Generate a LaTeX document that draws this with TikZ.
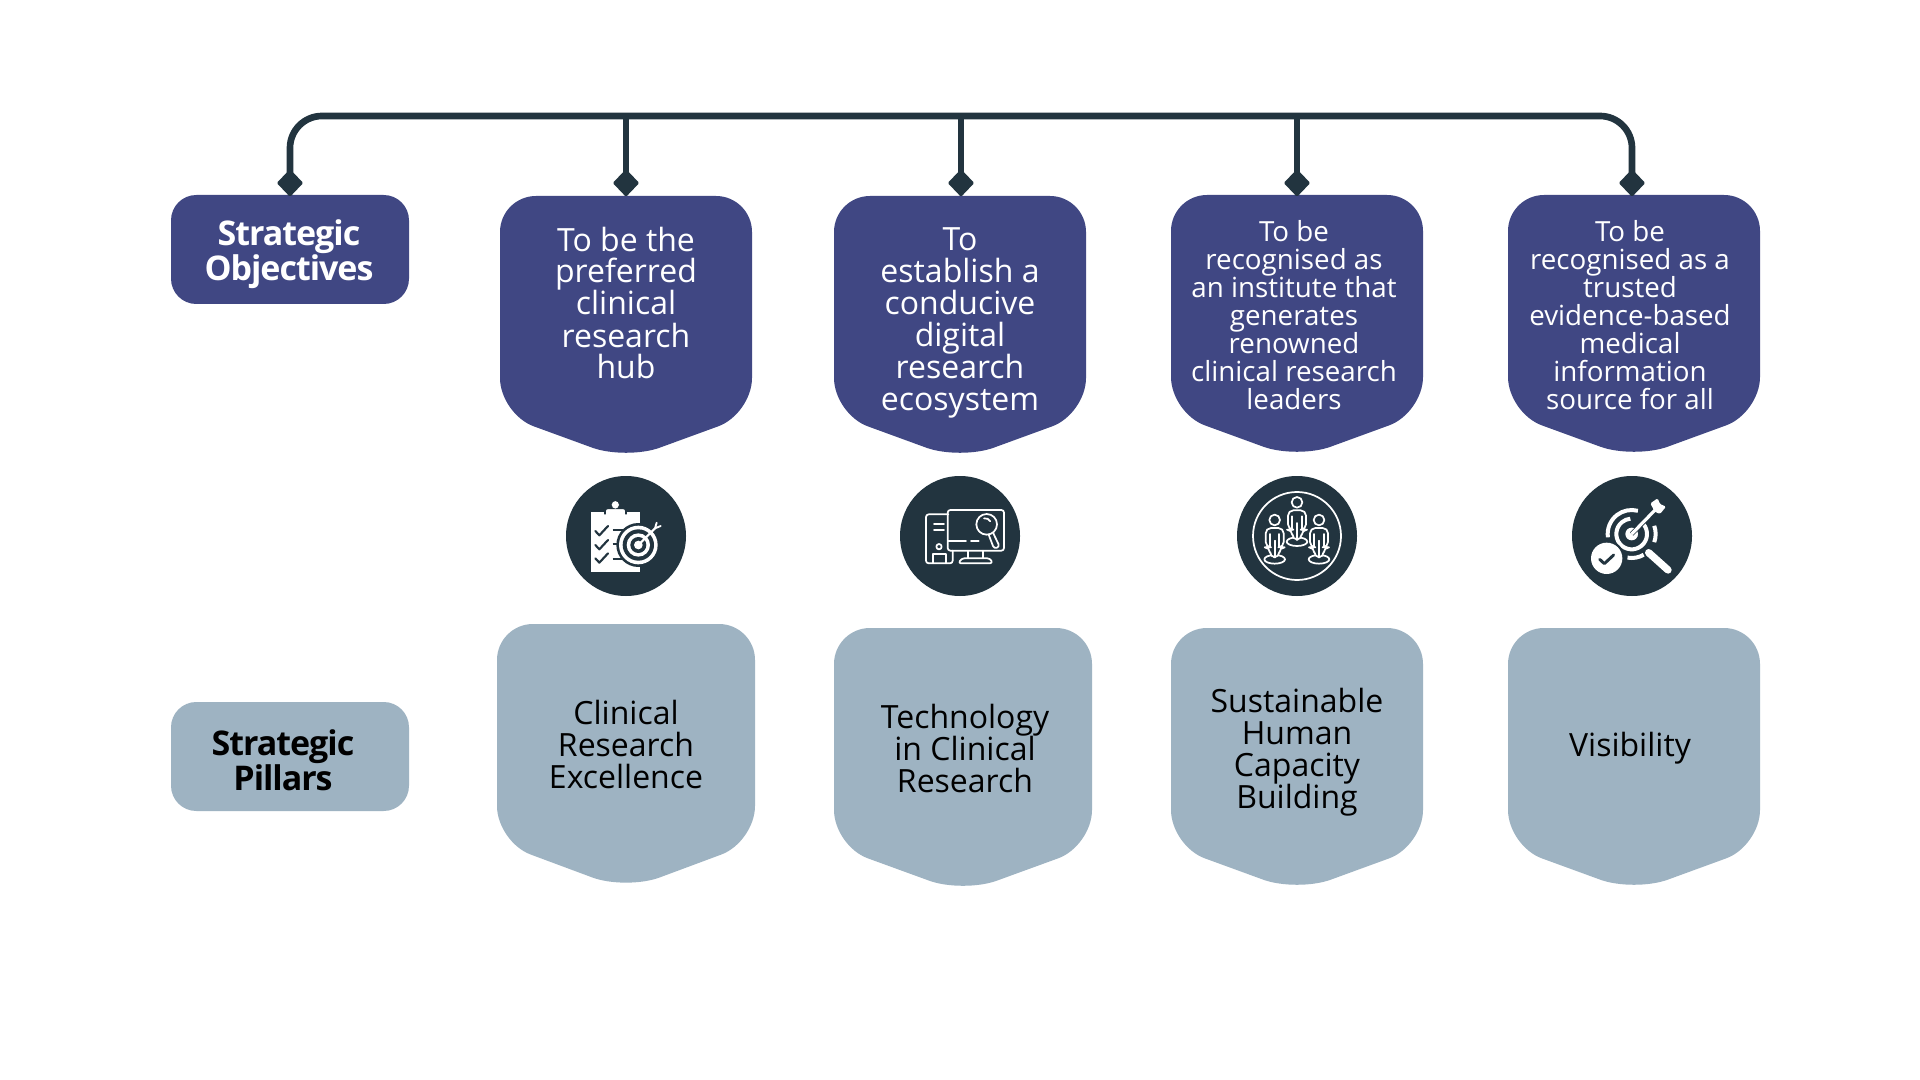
\documentclass[tikz,border=0pt]{standalone}
\usepackage{fontspec}
\setmainfont{Open Sans}
\newfontfamily\headfont[LetterSpace=-3]{Open Sans}
\usetikzlibrary{shapes.geometric}
\definecolor{objblue}{RGB}{64,71,131}
\definecolor{pillargrey}{RGB}{158,179,194}
\definecolor{darkslate}{RGB}{34,52,63}
\tikzset{
  busline/.style={draw=darkslate,line width=5pt},
  tipmark/.style={shape=diamond,fill=darkslate,inner sep=0pt,minimum width=20pt,minimum height=21pt,rounded corners=1pt},
  hdrbox/.style={shape=rectangle,rounded corners=19pt,minimum width=178.5pt,minimum height=81.75pt,inner sep=0pt},
  hdrtext/.style={align=center,font=\headfont\bfseries\fontsize{25.5}{24}\selectfont},
  bigtext/.style={align=center,font=\fontsize{24}{24}\selectfont},
  smalltext/.style={align=center,font=\fontsize{20.8}{21}\selectfont},
  icondisc/.style={shape=circle,fill=darkslate,minimum size=90pt,inner sep=0pt},
  iconline/.style={draw=white,line width=1.3pt,line join=round,line cap=round},
  personpic/.pic={
    \draw[iconline,fill=darkslate] (0,0) circle (16);
    \draw[iconline,fill=darkslate] (0,118) ellipse (31 and 13);
    \draw[iconline,fill=darkslate,rounded corners=4pt] (-14,112) -- (-14,82) -- (-27,82) -- (-27,24) -- (27,24) -- (27,82) -- (14,82) -- (14,112) -- cycle;
    \draw[iconline] (-14,42) -- (-14,82) (14,42) -- (14,82) (0,62) -- (0,112);
  }
}

\begin{document}
\begin{tikzpicture}[x=0.75pt,y=0.75pt,yscale=-1,xscale=1]
\path[use as bounding box,fill=white] (0,0) rectangle (1920,1080);

%Shape: Pentagon objectives
\fill[objblue,rounded corners=27pt] (626,196) -- (752,196) -- (752,414) -- (626,460) -- (500,414) -- (500,196) -- cycle;
\fill[objblue,rounded corners=27pt] (960,196) -- (1086,196) -- (1086,414) -- (960,460) -- (834,414) -- (834,196) -- cycle;
\fill[objblue,rounded corners=27pt] (1297,195) -- (1423,195) -- (1423,413) -- (1297,459) -- (1171,413) -- (1171,195) -- cycle;
\fill[objblue,rounded corners=27pt] (1634,195) -- (1760,195) -- (1760,413) -- (1634,459) -- (1508,413) -- (1508,195) -- cycle;

%Shape: Pentagon pillars
\fill[pillargrey,rounded corners=27pt] (626,624) -- (755,624) -- (755,842) -- (626,890) -- (497,842) -- (497,624) -- cycle;
\fill[pillargrey,rounded corners=27pt] (963,628) -- (1092,628) -- (1092,846) -- (963,893) -- (834,846) -- (834,628) -- cycle;
\fill[pillargrey,rounded corners=27pt] (1297,628) -- (1423,628) -- (1423,846) -- (1297,892) -- (1171,846) -- (1171,628) -- cycle;
\fill[pillargrey,rounded corners=27pt] (1634,628) -- (1760,628) -- (1760,846) -- (1634,892) -- (1508,846) -- (1508,628) -- cycle;

%Shape: Header boxes
\node[hdrbox,fill=objblue] (objbox) at (290,249.5) {};
\node[hdrbox,fill=pillargrey] (pilbox) at (290,756.5) {};

%Connector points on the bus
\coordinate (busA) at (290,116);
\coordinate (busB) at (626,116);
\coordinate (busC) at (961,116);
\coordinate (busD) at (1297,116);
\coordinate (busE) at (1632,116);

%Diamond ends
\node[tipmark] (tipA) at (290,183) {};
\node[tipmark] (tipB) at (626,183) {};
\node[tipmark] (tipC) at (961,183) {};
\node[tipmark] (tipD) at (1297,183) {};
\node[tipmark] (tipE) at (1632,183) {};

%Straight Lines
\draw[busline,rounded corners=24pt] (tipA.center) -- (busA) -- (busE) -- (tipE.center);
\draw[busline] (busB) -- (tipB.center);
\draw[busline] (busC) -- (tipC.center);
\draw[busline] (busD) -- (tipD.center);

%Shape: Circle
\node[icondisc] (discA) at (626,536) {};
\node[icondisc] (discB) at (960,536) {};
\node[icondisc] (discC) at (1297,536) {};
\node[icondisc] (discD) at (1632,536) {};

%Icon clipboard
\begin{scope}[shift={(discA.center)},scale=1/3,shift={(-258,-228)}]
\fill[white] (153,155) -- (300,155) -- (300,335) -- (153,335) -- cycle;
\draw[darkslate,line width=1.2pt,fill=white,rounded corners=2pt] (195,163) -- (195,145) -- (258,145) -- (258,163);
\fill[white,rounded corners=3pt] (215,146) -- (215,123) -- (237,123) -- (237,146) -- cycle;
\draw[darkslate,line width=1.6pt,line cap=round,line join=round] (166,213) -- (178,226) -- (204,198) (166,255) -- (178,268) -- (204,240) (166,295) -- (178,308) -- (204,280);
\draw[darkslate,line width=1.6pt] (218,210) -- (250,210) (218,253) -- (240,253) (218,297) -- (250,297);
\fill[darkslate] (295,255) circle (66);
\fill[white] (295,255) circle (58);
\fill[darkslate] (295,255) circle (47);
\fill[white] (295,255) circle (35);
\fill[darkslate] (295,255) circle (24);
\fill[white] (295,255) circle (13);
\draw[white,line width=1.6pt,line cap=round] (295,255) -- (345,205);
\draw[white,line width=1.4pt,line cap=round] (350,188) -- (345,205) -- (362,198);
\end{scope}

%Icon computer
\begin{scope}[shift={(discB.center)},scale=1/3,shift={(-1260,-228)}]
\draw[iconline,rounded corners=2pt] (1225,163) -- (1158,163) -- (1158,310) -- (1238,310) -- (1238,272);
\draw[iconline,rounded corners=2pt] (1223,150) rectangle (1392,272);
\draw[iconline] (1182,193) -- (1212,193) (1182,211) -- (1212,211);
\draw[iconline] (1197,260) circle (8);
\draw[iconline] (1178,310) -- (1178,283) -- (1218,283) -- (1218,310);
\draw[iconline] (1225,243) -- (1278,243) (1293,243) -- (1316,243);
\draw[iconline] (1285,272) -- (1285,295) (1330,272) -- (1330,295);
\draw[iconline,rounded corners=2pt] (1255,310) -- (1265,295) -- (1350,295) -- (1358,310) -- cycle;
\draw[iconline] (1340,193) circle (31);
\draw[iconline] (1332,175) arc[start angle=-100,end angle=-30,radius=18];
\draw[iconline,rounded corners=2pt] (1346,224) -- (1362,266) -- (1379,260) -- (1360,220);
\end{scope}

%Icon people
\begin{scope}[shift={(discC.center)},scale=1/3,shift={(-231,-228)}]
\draw[iconline] (231,228) circle (132);
\pic[transform shape] at (231,127) {personpic};
\pic[transform shape] at (164,180) {personpic};
\pic[transform shape] at (297,180) {personpic};
\end{scope}

%Icon target
\begin{scope}[shift={(discD.center)},scale=1/3,shift={(-1238,-228)}]
\draw[white,line width=3pt] (1237,222) ++(172:72) arc[start angle=172,end angle=285,radius=72];
\draw[white,line width=3pt] (1237,222) ++(-20:72) arc[start angle=-20,end angle=20,radius=72];
\draw[white,line width=3pt] (1237,222) ++(60:72) arc[start angle=60,end angle=100,radius=72];
\draw[white,line width=3pt] (1237,222) ++(-40:46) arc[start angle=-40,end angle=265,radius=46];
\fill[white] (1237,222) circle (19);
\draw[darkslate,line width=3.5pt] (1237,222) -- (1310,148);
\draw[white,line width=2.4pt] (1237,222) -- (1315,142);
\fill[white,rounded corners=1pt] (1293,130) -- (1315,115) -- (1322,132) -- (1340,140) -- (1322,162) -- (1306,155) -- cycle;
\draw[white,line width=5.5pt,line cap=round] (1288,278) -- (1346,330);
\fill[darkslate] (1162,295) circle (54);
\fill[white] (1162,295) circle (47);
\draw[darkslate,line width=2.2pt,line cap=round,line join=round] (1141,298) -- (1155,311) -- (1183,285);
\end{scope}

% Text Node
\node[hdrtext,white] (objtext) at (289,254) {Strategic\\Objectives};
\node[hdrtext,black] (piltext) at (283,760) {Strategic\\Pillars};
% Text Node
\node[bigtext,white] (objB) at (626,303) {To be the\\preferred\\clinical\\research\\hub};
\node[bigtext,white] (objC) at (960,323) {To\\establish a\\conducive\\digital\\research\\ecosystem};
\node[smalltext,white] (objD) at (1294,315) {To be\\recognised as\\an institute that\\generates\\renowned\\clinical research\\leaders};
\node[smalltext,white] (objE) at (1630,315) {To be\\recognised as a\\trusted\\evidence-based\\medical\\information\\source for all};
% Text Node
\node[bigtext,black] (pilB) at (626,744) {Clinical\\Research\\Excellence};
\node[bigtext,black] (pilC) at (965,748) {Technology\\in Clinical\\Research};
\node[bigtext,black] (pilD) at (1297,752) {Sustainable\\Human\\Capacity\\Building};
\node[bigtext,black] (pilE) at (1630,748) {Visibility};

\end{tikzpicture}
\end{document}
